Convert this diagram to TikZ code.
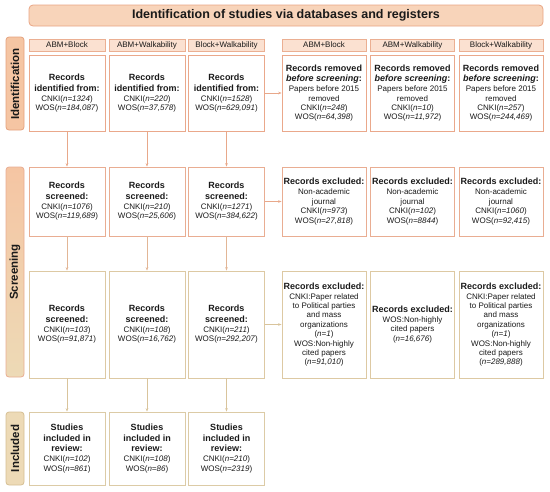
\documentclass[tikz,border=0pt]{standalone}
\usepackage{fontspec}
\setmainfont{Liberation Sans}
\usetikzlibrary{arrows.meta}
\definecolor{titlefill}{HTML}{F8D4BA}
\definecolor{titledraw}{HTML}{E9A584}
\definecolor{headfill}{HTML}{FBE1D1}
\definecolor{headdraw}{HTML}{EBAF92}
\definecolor{rowa}{HTML}{EAA88B}
\definecolor{rowb}{HTML}{E9AD92}
\definecolor{rowc}{HTML}{DDC9A3}
\definecolor{rowd}{HTML}{DCCBA6}
\definecolor{sidea}{HTML}{F5C5A3}
\definecolor{sideadraw}{HTML}{E5A27E}
\definecolor{sidec}{HTML}{EDDAB6}
\definecolor{sidecdraw}{HTML}{D6BF93}
\definecolor{arra}{HTML}{E8A88A}
\definecolor{arrb}{HTML}{E2B696}
\definecolor{arrc}{HTML}{D9C49C}
\definecolor{txt}{HTML}{1A1A1A}
\newcommand{\bt}[1]{{\fontsize{9}{11}\selectfont\bfseries #1}}
\newcommand{\nn}[1]{\textit{n=#1}}
\tikzset{
  basebox/.style={draw, line width=0.8pt, fill=white, inner sep=1pt, align=center,
    text=txt, font=\fontsize{8}{9.4}\selectfont},
  headbox/.style={draw=headdraw, fill=headfill, line width=0.8pt, inner sep=0pt,
    minimum height=12pt, text=txt, font=\fontsize{8}{9.5}\selectfont},
  sidebar/.style={rounded corners=3pt, line width=0.8pt},
  sidetext/.style={rotate=90, font=\fontsize{11.5}{14}\selectfont\bfseries, text=txt},
  arr/.style={line width=0.7pt, -{Stealth[length=3.5pt,width=2.6pt]}},
}
\begin{document}
\begin{tikzpicture}[x=1pt,y=-1pt]
\useasboundingbox (0,0) rectangle (550,491);
% title
\node[draw=titledraw, fill=titlefill, line width=0.8pt, rounded corners=4pt,
  minimum width=514pt, minimum height=21pt, inner sep=0pt,
  font=\fontsize{12.5}{14}\selectfont\bfseries, text=txt] (title) at (286,15.5)
  {Identification of studies via databases and registers};
% sidebars
\draw[sidebar, draw=sideadraw, fill=sidea] (6,37) rectangle (24,130);
\node[sidetext] (sida) at (15,84) {Identification};
\draw[sidebar, draw=rowb, top color=sidea, bottom color=sidec] (6,167) rectangle (24,377);
\node[sidetext] (sidb) at (15,272) {Screening};
\draw[sidebar, draw=sidecdraw, fill=sidec] (6,412) rectangle (24,485);
\node[sidetext] (sidc) at (15,448.5) {Included};
% headers
\node[headbox, minimum width=76pt] (h1) at (67,45) {ABM+Block};
\node[headbox, minimum width=76pt] (h2) at (147,45) {ABM+Walkability};
\node[headbox, minimum width=76pt] (h3) at (226.5,45) {Block+Walkability};
\node[headbox, minimum width=84pt] (h4) at (324,45) {ABM+Block};
\node[headbox, minimum width=84pt] (h5) at (412.5,45) {ABM+Walkability};
\node[headbox, minimum width=84pt] (h6) at (501,45) {Block+Walkability};
% row 1
\tikzset{ra/.style={basebox, draw=rowa, minimum height=76pt}}
\node[ra, minimum width=76pt] (a1) at (67,93) {\bt{Records}\\[1.2pt]\bt{identified from:}\\[0.6pt]CNKI(\nn{1324})\\WOS(\nn{184,087})};
\node[ra, minimum width=76pt] (a2) at (147,93) {\bt{Records}\\[1.2pt]\bt{identified from:}\\[0.6pt]CNKI(\nn{220})\\WOS(\nn{37,578})};
\node[ra, minimum width=76pt] (a3) at (226.5,93) {\bt{Records}\\[1.2pt]\bt{identified from:}\\[0.6pt]CNKI(\nn{1528})\\WOS(\nn{629,091})};
\node[ra, minimum width=84pt] (a4) at (324,93) {\bt{Records removed}\\[1.2pt]\bt{\textit{before screening}:}\\[0.6pt]Papers before 2015\\removed\\CNKI(\nn{248})\\WOS(\nn{64,398})};
\node[ra, minimum width=84pt] (a5) at (412.5,93) {\bt{Records removed}\\[1.2pt]\bt{\textit{before screening}:}\\[0.6pt]Papers before 2015\\removed\\CNKI(\nn{10})\\WOS(\nn{11,972})};
\node[ra, minimum width=84pt] (a6) at (501,93) {\bt{Records removed}\\[1.2pt]\bt{\textit{before screening}:}\\[0.6pt]Papers before 2015\\removed\\CNKI(\nn{257})\\WOS(\nn{244,469})};
% row 2
\tikzset{rb/.style={basebox, draw=rowb, minimum height=69pt}}
\node[rb, minimum width=76pt] (b1) at (67,201.5) {\bt{Records}\\[1.2pt]\bt{screened:}\\[0.6pt]CNKI(\nn{1076})\\WOS(\nn{119,689})};
\node[rb, minimum width=76pt] (b2) at (147,201.5) {\bt{Records}\\[1.2pt]\bt{screened:}\\[0.6pt]CNKI(\nn{210})\\WOS(\nn{25,606})};
\node[rb, minimum width=76pt] (b3) at (226.5,201.5) {\bt{Records}\\[1.2pt]\bt{screened:}\\[0.6pt]CNKI(\nn{1271})\\WOS(\nn{384,622})};
\node[rb, minimum width=84pt] (b4) at (324,201.5) {\bt{Records excluded:}\\[0.6pt]Non-academic\\journal\\CNKI(\nn{973})\\WOS(\nn{27,818})};
\node[rb, minimum width=84pt] (b5) at (412.5,201.5) {\bt{Records excluded:}\\[0.6pt]Non-academic\\journal\\CNKI(\nn{102})\\WOS(\nn{8844})};
\node[rb, minimum width=84pt] (b6) at (501,201.5) {\bt{Records excluded:}\\[0.6pt]Non-academic\\journal\\CNKI(\nn{1060})\\WOS(\nn{92,415})};
% row 3
\tikzset{rc/.style={basebox, draw=rowc, minimum height=107pt}}
\node[rc, minimum width=76pt] (c1) at (67,324.5) {\bt{Records}\\[1.2pt]\bt{screened:}\\[0.6pt]CNKI(\nn{103})\\WOS(\nn{91,871})};
\node[rc, minimum width=76pt] (c2) at (147,324.5) {\bt{Records}\\[1.2pt]\bt{screened:}\\[0.6pt]CNKI(\nn{108})\\WOS(\nn{16,762})};
\node[rc, minimum width=76pt] (c3) at (226.5,324.5) {\bt{Records}\\[1.2pt]\bt{screened:}\\[0.6pt]CNKI(\nn{211})\\WOS(\nn{292,207})};
\node[rc, minimum width=84pt] (c4) at (324,324.5) {\bt{Records excluded:}\\[0.6pt]CNKI:Paper related\\to Political parties\\and mass\\organizations\\(\nn{1})\\WOS:Non-highly\\cited papers\\(\nn{91,010})};
\node[rc, minimum width=84pt] (c5) at (412.5,324.5) {\bt{Records excluded:}\\[0.6pt]WOS:Non-highly\\cited papers\\(\nn{16,676})};
\node[rc, minimum width=84pt] (c6) at (501,324.5) {\bt{Records excluded:}\\[0.6pt]CNKI:Paper related\\to Political parties\\and mass\\organizations\\(\nn{1})\\WOS:Non-highly\\cited papers\\(\nn{289,888})};
% row 4
\tikzset{rd/.style={basebox, draw=rowd, minimum height=73pt, minimum width=76pt}}
\node[rd] (d1) at (67,448.5) {\bt{Studies}\\[1.2pt]\bt{included in}\\[1.2pt]\bt{review:}\\[0.6pt]CNKI(\nn{102})\\WOS(\nn{861})};
\node[rd] (d2) at (147,448.5) {\bt{Studies}\\[1.2pt]\bt{included in}\\[1.2pt]\bt{review:}\\[0.6pt]CNKI(\nn{108})\\WOS(\nn{86})};
\node[rd] (d3) at (226.5,448.5) {\bt{Studies}\\[1.2pt]\bt{included in}\\[1.2pt]\bt{review:}\\[0.6pt]CNKI(\nn{210})\\WOS(\nn{2319})};
% arrows
\foreach \i in {1,2,3}{
  \draw[arr, draw=arra] (a\i) -- (b\i);
  \draw[arr, draw=arrb] (b\i) -- (c\i);
  \draw[arr, draw=arrc] (c\i) -- (d\i);
}
\draw[arr, draw=arra] (a3) -- (a4);
\draw[arr, draw=arra] (b3) -- (b4);
\draw[arr, draw=arrc] (c3) -- (c4);
\end{tikzpicture}
\end{document}
